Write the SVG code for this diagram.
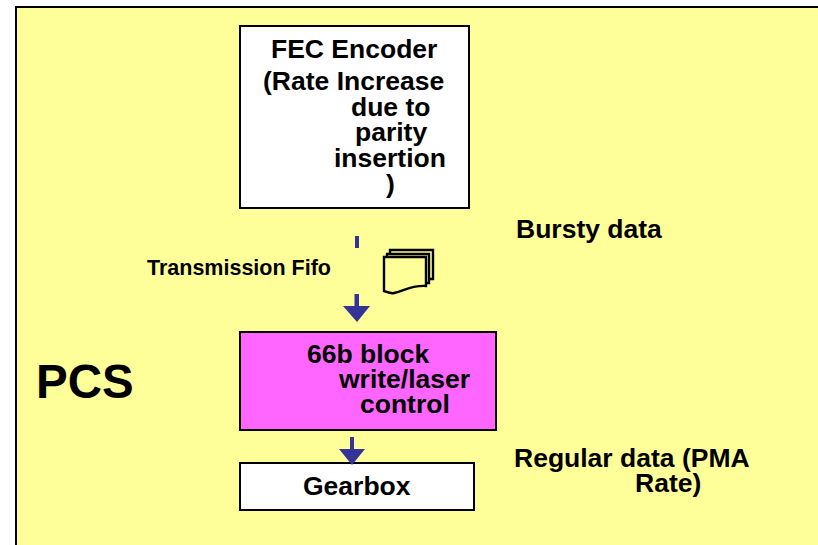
<svg xmlns="http://www.w3.org/2000/svg" width="818" height="545" viewBox="0 0 818 545">
<style>
text{font-family:"Liberation Sans",Arial,sans-serif;font-weight:bold;fill:#000}
.b{stroke:#000;stroke-width:2}
.f{font-size:26.5px}
.a{fill:#333399;stroke:none}
.s{fill:#ffff99;stroke:#000;stroke-width:2.400}
</style>
<rect width="818" height="545" fill="#fff"/>
<g id="pcs-background"><rect x="16" y="7" width="810" height="545" fill="#ffff99" stroke="#000" stroke-width="2"/></g>
<g id="fec-encoder">
<rect class="b" x="240" y="26" width="229" height="182" fill="#fff"/>
<text class="f" x="271" y="58">FEC Encoder</text>
<text class="f" x="263" y="90">(Rate Increase</text>
<text class="f" x="351" y="116">due to</text>
<text class="f" x="355" y="141">parity</text>
<text class="f" x="334" y="167">insertion</text>
<text class="f" x="386" y="193">)</text>
</g>
<g id="block-write">
<rect class="b" x="240" y="332" width="256" height="98" fill="#ff66ff"/>
<text class="f" x="307" y="363">66b block</text>
<text class="f" x="339" y="388">write/laser</text>
<text class="f" x="360" y="413">control</text>
</g>
<g id="gearbox">
<rect class="b" x="240" y="463" width="234" height="47" fill="#fff"/>
<text class="f" x="303" y="495">Gearbox</text>
</g>
<g id="fifo-icon">
<path class="s" d="M390 250H433V279H390Z"/>
<path class="s" d="M387 254H429V283H387Z"/>
<path class="s" d="M384 257H426V286C412 285 403 291 394 293C391 294 387 292 384 291Z"/>
</g>
<g id="connectors">
<rect class="a" x="355" y="236" width="4" height="12"/>
<path class="a" d="M354.500 294H359V306H370L357 322L343 306H354.500Z"/>
<path class="a" d="M350 437H354V449H365L352 465L339 449H350Z"/>
</g>
<g id="labels">
<text x="147" y="275" style="font-size:21.500px">Transmission Fifo</text>
<text class="f" x="516" y="238">Bursty data</text>
<text class="f" x="514" y="467">Regular data (PMA</text>
<text class="f" x="635" y="492">Rate)</text>
<text x="36" y="398" style="font-size:47.500px">PCS</text>
</g>
</svg>
